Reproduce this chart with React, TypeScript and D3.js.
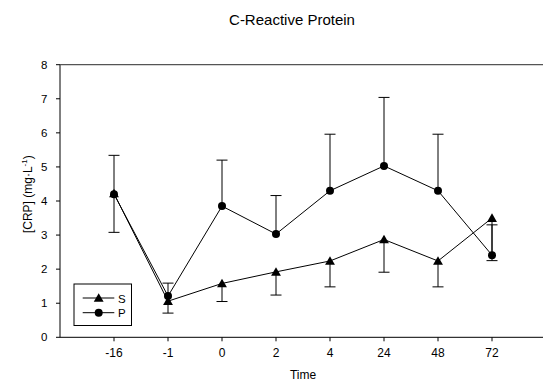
import React from "react";
import * as d3 from "d3";

const timeLabels = ["-16", "-1", "0", "2", "4", "24", "48", "72"];
const sMean = [4.22, 1.06, 1.58, 1.92, 2.24, 2.87, 2.24, 3.5];
const sLower = [3.08, 0.71, 1.05, 1.24, 1.48, 1.91, 1.48, 2.25];
const pMean = [4.2, 1.21, 3.85, 3.03, 4.3, 5.03, 4.3, 2.41];
const pUpper = [5.34, 1.59, 5.2, 4.16, 5.96, 7.04, 5.96, 3.3];
const yTicks = [0, 1, 2, 3, 4, 5, 6, 7, 8];

const W = 543;
const H = 381;
const left = 60;
const top = 64.7;
const bottom = 337.3;

export default function App() {
  const x = d3.scaleLinear().domain([-1, 8]).range([left, left + 54 * 9]);
  const y = d3.scaleLinear().domain([0, 8]).range([bottom, top]);
  const idx = timeLabels.map((_, i) => i);

  const line = d3
    .line<number>()
    .x((_, i) => x(i))
    .y((d) => y(d));

  const tri = d3.symbol(d3.symbolTriangle, 42)();
  const font = "Arial, 'Liberation Sans', Helvetica, sans-serif";
  const cap = 5.5;

  const errBar = (i: number, from: number, to: number, key: string) => (
    <g key={key} stroke="#000" strokeWidth={1}>
      <line x1={x(i)} x2={x(i)} y1={y(from)} y2={y(to)} />
      <line x1={x(i) - cap} x2={x(i) + cap} y1={y(to)} y2={y(to)} />
    </g>
  );

  return (
    <svg
      width={W}
      height={H}
      style={{ position: "absolute", left: 0, top: 0, background: "#fff" }}
      fontFamily={font}
    >
      <text x={292} y={25} textAnchor="middle" fontSize={15}>
        C-Reactive Protein
      </text>

      {/* axes frame: left, bottom, top */}
      <line x1={left} x2={left} y1={top} y2={bottom} stroke="#000" />
      <line x1={left} x2={W} y1={bottom} y2={bottom} stroke="#000" />
      <line x1={left} x2={W} y1={top} y2={top} stroke="#555" strokeWidth={1.2} />

      {yTicks.map((t) => (
        <g key={"y" + t}>
          <line x1={left - 4} x2={left} y1={y(t)} y2={y(t)} stroke="#000" />
          <text x={47.5} y={y(t) + 4} textAnchor="end" fontSize={11.5}>
            {t}
          </text>
        </g>
      ))}
      {idx.map((i) => (
        <g key={"x" + i}>
          <line x1={x(i)} x2={x(i)} y1={bottom} y2={bottom + 4} stroke="#000" />
          <text x={x(i)} y={357} textAnchor="middle" fontSize={12}>
            {timeLabels[i]}
          </text>
        </g>
      ))}

      <text x={303} y={378.5} textAnchor="middle" fontSize={12}>
        Time
      </text>
      <text
        transform={`translate(32,${y(4.2)}) rotate(-90)`}
        textAnchor="middle"
        fontSize={12}
      >
        [CRP] (mg·L
        <tspan dy={-5} fontSize={8}>-1</tspan>
        <tspan dy={5}>)</tspan>
      </text>

      {/* error bars: S below, P above */}
      {idx.map((i) => errBar(i, sMean[i], sLower[i], "se" + i))}
      {idx.map((i) => errBar(i, pMean[i], pUpper[i], "pe" + i))}

      <path d={line(sMean) || ""} fill="none" stroke="#000" strokeWidth={1} />
      <path d={line(pMean) || ""} fill="none" stroke="#000" strokeWidth={1} />

      {sMean.map((v, i) => (
        <path key={"s" + i} d={tri || ""} transform={`translate(${x(i)},${y(v) + 1})`} fill="#000" />
      ))}
      {pMean.map((v, i) => (
        <circle key={"p" + i} cx={x(i)} cy={y(v)} r={4} fill="#000" />
      ))}

      {/* legend */}
      <rect x={74} y={284} width={57.5} height={41.5} fill="#fff" stroke="#000" />
      <line x1={82.7} x2={114.3} y1={298} y2={298} stroke="#000" />
      <path d={tri || ""} transform="translate(98.7,299)" fill="#000" />
      <text x={118} y={302.5} fontSize={11.5}>S</text>
      <line x1={82.7} x2={114.3} y1={312.7} y2={312.7} stroke="#000" />
      <circle cx={98.7} cy={312.7} r={4} fill="#000" />
      <text x={118} y={317} fontSize={11.5}>P</text>
    </svg>
  );
}
